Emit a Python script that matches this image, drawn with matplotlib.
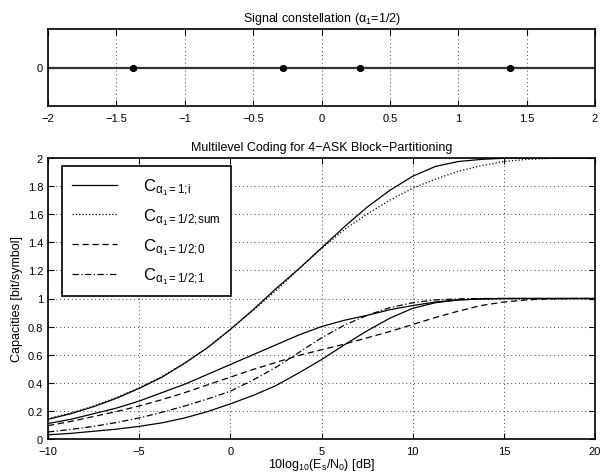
import matplotlib
matplotlib.use("Agg")
import matplotlib.pyplot as plt

plt.rcParams['font.family'] = ['Liberation Sans', 'DejaVu Sans']
plt.rcParams['mathtext.fontset'] = 'custom'
plt.rcParams['mathtext.rm'] = 'Liberation Sans'
plt.rcParams['mathtext.it'] = 'Liberation Sans:italic'
plt.rcParams['mathtext.default'] = 'regular'

# Constelacion 4-ASK (alpha_1 = 1/2)
puntos = [-1.38, -0.28, 0.28, 1.38]

# Capacidades vs Es/N0 [dB]
snr_db = [-10, -8.75, -7.5, -6.25, -5, -3.75, -2.5, -1.25, 0, 1.25, 2.5, 3.75, 5,
          6.25, 7.5, 8.75, 10, 11.25, 12.5, 13.75, 15, 16.25, 17.5, 18.75, 20]
c_a1_sum = [0.14, 0.18, 0.23, 0.29, 0.36, 0.44, 0.54, 0.65, 0.78, 0.92, 1.07, 1.21, 1.36,
            1.51, 1.65, 1.77, 1.87, 1.94, 1.975, 1.99, 1.998, 2.0, 2.0, 2.0, 2.0]
c_a1_0 = [0.11, 0.14, 0.18, 0.22, 0.27, 0.33, 0.39, 0.46, 0.53, 0.60, 0.67, 0.74, 0.80,
          0.845, 0.88, 0.92, 0.95, 0.975, 0.99, 0.997, 1.0, 1.0, 1.0, 1.0, 1.0]
c_a1_1 = [0.03, 0.04, 0.055, 0.07, 0.09, 0.115, 0.15, 0.195, 0.25, 0.31, 0.38, 0.47, 0.565,
          0.67, 0.77, 0.86, 0.93, 0.97, 0.99, 0.997, 1.0, 1.0, 1.0, 1.0, 1.0]
c_a2_sum = [0.145, 0.185, 0.235, 0.295, 0.365, 0.445, 0.54, 0.65, 0.78, 0.915, 1.055, 1.21, 1.355,
            1.49, 1.60, 1.70, 1.785, 1.85, 1.905, 1.945, 1.975, 1.99, 1.997, 2.0, 2.0]
c_a2_0 = [0.095, 0.125, 0.16, 0.195, 0.235, 0.28, 0.33, 0.385, 0.44, 0.495, 0.545, 0.595, 0.635,
          0.675, 0.72, 0.765, 0.815, 0.865, 0.91, 0.95, 0.975, 0.99, 0.997, 1.0, 1.0]
c_a2_1 = [0.05, 0.068, 0.09, 0.117, 0.15, 0.19, 0.235, 0.285, 0.34, 0.42, 0.51, 0.615, 0.72,
          0.81, 0.88, 0.935, 0.97, 0.99, 0.997, 1.0, 1.0, 1.0, 1.0, 1.0, 1.0]

fig = plt.figure(figsize=(6.1, 4.77), dpi=100)
fs = 9
fs_ticks = 8
grid_kw = dict(ls=(0, (1, 3)), color='#444444', lw=0.7)

# Panel superior
ax1 = fig.add_axes([48/610, 1-107/477, 547/610, 77/477])
ax1.axhline(0, color='#333333', lw=1.6)
ax1.plot(puntos, [0]*len(puntos), ls='none', marker=(6, 2, 0), ms=5,
         mec='black', mew=2.0)
ax1.set_xlim(-2, 2)
ax1.set_ylim(-1, 1)
ax1.set_yticks([0])
ax1.set_xticks([-2, -1.5, -1, -0.5, 0, 0.5, 1, 1.5, 2])
ax1.set_xticklabels(['\u22122', '\u22121.5', '\u22121', '\u22120.5', '0', '0.5', '1', '1.5', '2'])
ax1.grid(True, axis='x', **grid_kw)
ax1.set_title('Signal constellation ($\\alpha_1$=1/2)', fontsize=fs, pad=6)

# Panel inferior
ax2 = fig.add_axes([48/610, 1-440/477, 547/610, 281/477])
ax2.plot(snr_db, c_a1_sum, 'k-', lw=0.9, label='$\\mathrm{C}_{\\alpha_1\\mathrm{=1;\\!i}}$')
ax2.plot(snr_db, c_a2_sum, 'k:', lw=0.9, label='$\\mathrm{C}_{\\alpha_1\\mathrm{=1/2;\\!sum}}$')
ax2.plot(snr_db, c_a2_0, 'k--', lw=0.9, dashes=(5, 3),
         label='$\\mathrm{C}_{\\alpha_1\\mathrm{=1/2;\\!0}}$')
ax2.plot(snr_db, c_a2_1, 'k-.', lw=0.9, dashes=(5, 2, 1, 2),
         label='$\\mathrm{C}_{\\alpha_1\\mathrm{=1/2;\\!1}}$')
ax2.plot(snr_db, c_a1_0, 'k-', lw=0.9)
ax2.plot(snr_db, c_a1_1, 'k-', lw=0.9)
ax2.set_xlim(-10, 20)
ax2.set_ylim(0, 2)
ax2.set_xticks([-10, -5, 0, 5, 10, 15, 20])
ax2.set_xticklabels(['\u221210', '\u22125', '0', '5', '10', '15', '20'])
ax2.set_yticks([0, 0.2, 0.4, 0.6, 0.8, 1, 1.2, 1.4, 1.6, 1.8, 2])
ax2.set_yticklabels(['0', '0.2', '0.4', '0.6', '0.8', '1', '1.2', '1.4', '1.6', '1.8', '2'])
ax2.grid(True, **grid_kw)
ax2.set_title('Multilevel Coding for 4\u2212ASK Block\u2212Partitioning', fontsize=fs, pad=6)
ax2.set_xlabel('10log$_{10}$(E$_s$/N$_0$) [dB]', fontsize=fs, labelpad=0)
ax2.set_ylabel('Capacities [bit/symbol]', fontsize=fs, labelpad=3)

leg = ax2.legend(loc='upper left', bbox_to_anchor=(0.025, 0.97), fontsize=12,
                 handlelength=2.7, labelspacing=0.55, borderpad=0.6,
                 handletextpad=1.6, fancybox=False, framealpha=1, borderaxespad=0)
leg.get_frame().set_edgecolor('black')
leg.get_frame().set_linewidth(1.2)

for ax in (ax1, ax2):
    ax.tick_params(direction='in', top=True, right=True, labelsize=fs_ticks,
                   length=4, width=0.8)
    for s in ax.spines.values():
        s.set_linewidth(1.2)
ax2.tick_params(axis='x', pad=5)
ax1.tick_params(axis='x', pad=5)

fig.savefig('out.png', dpi=100)
